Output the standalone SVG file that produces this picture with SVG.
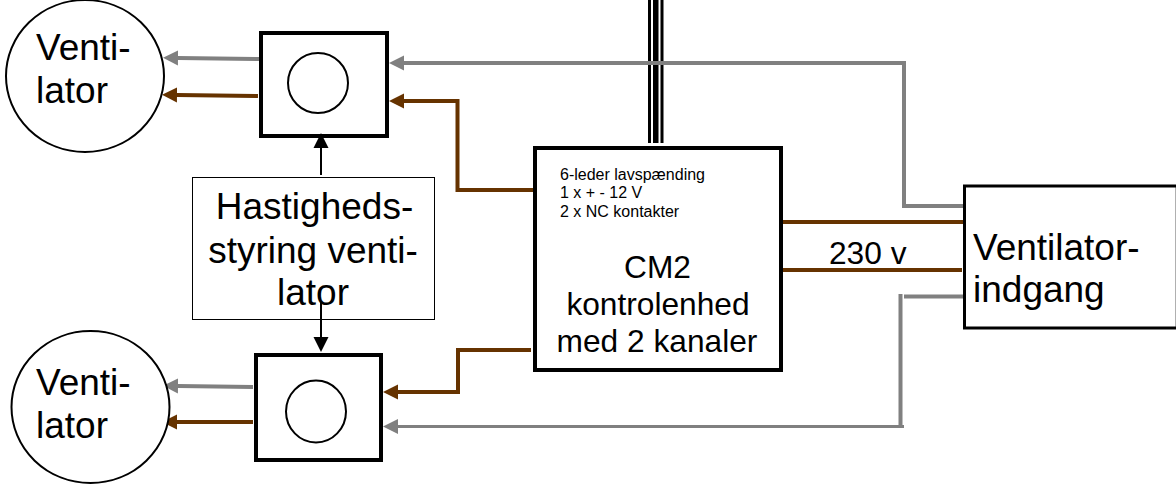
<svg xmlns="http://www.w3.org/2000/svg" width="1176" height="484" viewBox="0 0 1176 484">
<style>
text{font-family:"Liberation Sans",Arial,sans-serif;fill:#000}
.big{font-size:37px}.mid{font-size:31.7px}.small{font-size:16px}
.m{text-anchor:middle}
.thin{fill:#fff;stroke:#000;stroke-width:2}
.thick{fill:#fff;stroke:#000;stroke-width:4}
.w{fill:none;stroke-linejoin:miter}
.g{stroke:#808080;stroke-width:4}.g3{stroke:#808080;stroke-width:3}
.b{stroke:#663300;stroke-width:4}.k{stroke:#000;stroke-width:2}
</style>
<defs>
<marker id="ag" markerUnits="userSpaceOnUse" markerWidth="16" markerHeight="16" refX="0" refY="8" orient="auto"><path d="M0 0.5L15 8L0 15.5Z" fill="#808080"/></marker>
<marker id="ab" markerUnits="userSpaceOnUse" markerWidth="16" markerHeight="16" refX="0" refY="8" orient="auto"><path d="M0 0.5L15 8L0 15.5Z" fill="#663300"/></marker>
<marker id="ak" markerUnits="userSpaceOnUse" markerWidth="16" markerHeight="16" refX="0" refY="8" orient="auto"><path d="M0 0.5L15 8L0 15.5Z" fill="#000"/></marker>
</defs>
<g id="connectors">
<g id="bus" fill="#000"><rect x="648" y="0" width="3" height="143"/><rect x="653" y="0" width="5.500" height="143"/><rect x="660.500" y="0" width="3" height="143"/></g>
<path class="w g" d="M259 59L178 58" marker-end="url(#ag)"/>
<path class="w b" d="M258 96L177 95" marker-end="url(#ab)"/>
<path class="w g" d="M964 206H904V63H404" marker-end="url(#ag)"/>
<path class="w b" d="M533 190H457.500V101H404" marker-end="url(#ab)"/>
<path class="w b" d="M531 350H458V392H398" marker-end="url(#ab)"/>
<path class="w g" d="M964 296.500H904"/>
<path class="w g" d="M900.500 294V426"/>
<path class="w g3" d="M904 426.500H398" marker-end="url(#ag)"/>
<path class="w g" d="M253 387L178 386" marker-end="url(#ag)"/>
<path class="w b" d="M253 422L177 422" marker-end="url(#ab)"/>
<path class="w b" d="M783 222H963M781 270H962"/>
</g>
<g id="fan-top"><ellipse class="thin" cx="85" cy="76" rx="79" ry="76"/><text class="big" x="36" y="60">Venti-</text><text class="big" x="36" y="103">lator</text></g>
<g id="fan-bottom"><ellipse class="thin" cx="90.500" cy="407" rx="79" ry="76"/><text class="big" x="36" y="395">Venti-</text><text class="big" x="36" y="438">lator</text></g>
<g id="damper-top"><rect class="thick" x="261" y="33" width="126" height="103"/><circle class="thin" cx="318" cy="83" r="30"/></g>
<g id="damper-bottom"><rect class="thick" x="256" y="355" width="125" height="105"/><ellipse class="thin" cx="316" cy="411.500" rx="30" ry="31"/></g>
<g id="speed"><rect x="192.500" y="177.500" width="242" height="142" fill="#fff" stroke="#000" stroke-width="1"/><text class="big m" x="314.500" y="219">Hastigheds-</text><text class="big m" x="313" y="263">styring venti-</text><text class="big m" x="313" y="305">lator</text></g>
<g id="speed-links"><path class="w k" d="M321 175V148" marker-end="url(#ak)"/><path class="w k" d="M321 302V337" marker-end="url(#ak)"/></g>
<g id="cm2"><rect class="thick" x="535" y="148" width="246" height="222"/>
<text class="small" x="560" y="180">6-leder lavspænding</text><text class="small" x="560" y="198">1 x + - 12 V</text><text class="small" x="560" y="217">2 x NC kontakter</text>
<text class="mid m" x="657.500" y="278">CM2</text><text class="mid m" x="658" y="315">kontrolenhed</text><text class="mid m" x="657" y="352">med 2 kanaler</text></g>
<text id="voltage" class="mid" x="829" y="264">230 v</text>
<g id="inlet"><rect x="964.500" y="186" width="210.500" height="142" fill="#fff" stroke="none"/><path d="M1175.500 186V328" fill="none" stroke="#b0b0b0" stroke-width="1"/><path d="M1176 186H964.500V328H1176" fill="none" stroke="#000" stroke-width="3"/><text class="big" x="973" y="260">Ventilator-</text><text class="big" x="973" y="302">indgang</text></g>
</svg>
